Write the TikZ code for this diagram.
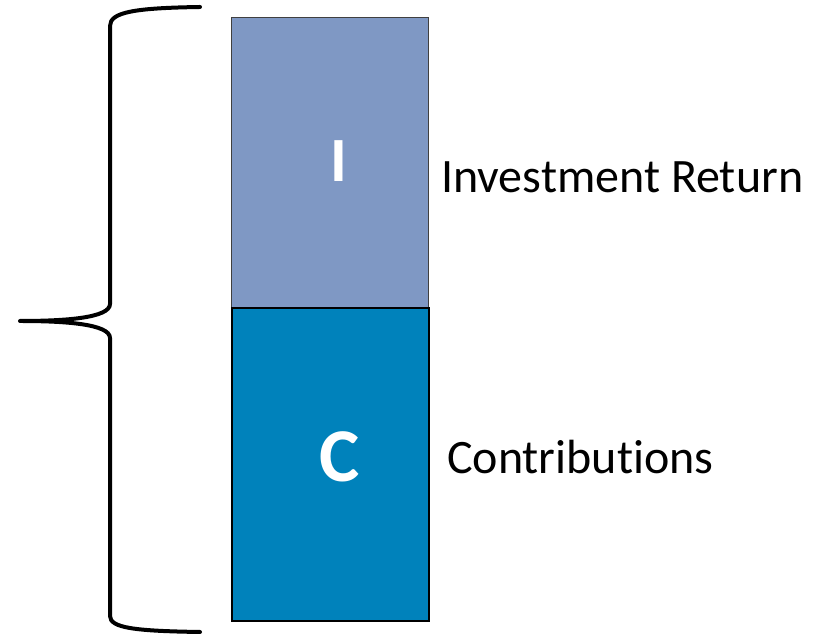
\documentclass[tikz,border=0pt]{standalone}
\usepackage{fontspec}
\setmainfont{Carlito}[Ligatures={NoCommon}]
\definecolor{returnblue}{RGB}{127,152,196}
\definecolor{contribblue}{RGB}{0,130,187}
\begin{document}
\begin{tikzpicture}[x=1pt,y=1pt,
  stack/.style={rectangle, inner sep=0pt, minimum width=197pt},
  letter/.style={text=white, font=\bfseries, inner sep=0pt, anchor=base},
  caption/.style={text=black, inner sep=0pt, anchor=base west, font=\fontsize{48}{58}\selectfont},
  bracket/.style={line width=4pt, line cap=round, line join=round}]
\useasboundingbox (0,0) rectangle (817,634);
% stacked value bar
\node[stack, fill=returnblue, draw=black!75, line width=1pt, minimum height=290pt, anchor=north west] (ret) at (231,617) {};
\node[stack, fill=contribblue, draw=black, line width=1.6pt, minimum height=313pt, anchor=north west] (con) at (231,327) {};
% letters inside the bar
\node[letter, font=\bfseries\fontsize{63}{70}\selectfont] (iletter) at (339,452) {I};
\node[letter, font=\bfseries\fontsize{76}{84}\selectfont] (cletter) at (340,152) {C};
% captions
\node[caption] (retlabel) at (441,441) {Investment Return};
\node[caption] (conlabel) at (447,160) {Contributions};
% brace spanning the whole bar
\coordinate (btop) at (200,627);
\coordinate (btip) at (20,313);
\coordinate (bbot) at (200,2);
\draw[bracket] (btop) .. controls (135,626) and (110,622) .. (110,608)
  -- (110,330) .. controls (110,316) and (65,313) .. (btip)
  .. controls (65,313) and (110,310) .. (110,296)
  -- (110,18) .. controls (110,6) and (135,3) .. (bbot);
\end{tikzpicture}
\end{document}
